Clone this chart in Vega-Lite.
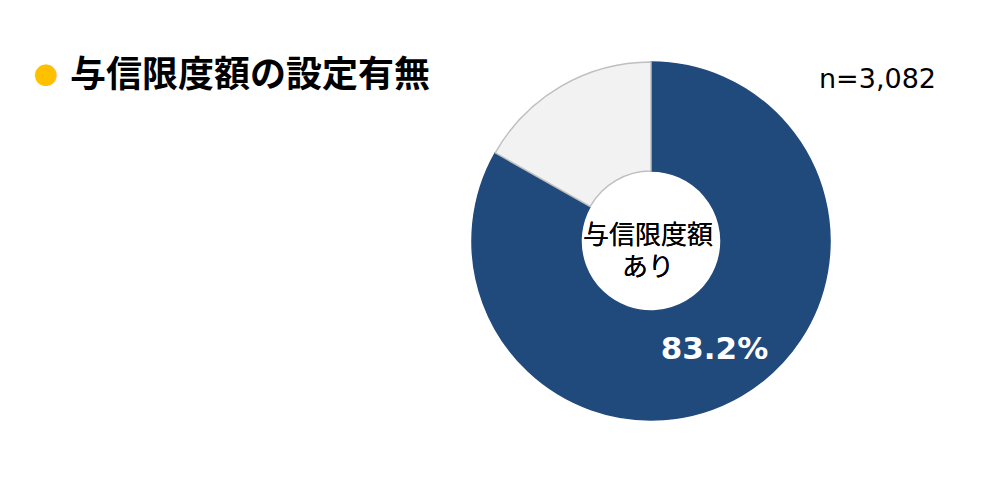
{
  "$schema": "https://vega.github.io/schema/vega-lite/v6.json",
  "background": "white",
  "padding": {"left": 34, "top": 58, "right": 0, "bottom": 0},
  "title": {
    "text": "●",
    "color": "#FFC000",
    "font": "Noto Sans CJK JP",
    "fontSize": 24,
    "fontWeight": "normal",
    "subtitle": "\u200b\u3000与信限度額の設定有無",
    "subtitleColor": "black",
    "subtitleFont": "Noto Sans CJK JP",
    "subtitleFontSize": 36,
    "subtitleFontWeight": "bold",
    "subtitlePadding": -30,
    "anchor": "start",
    "frame": "group",
    "dx": -438,
    "offset": -42
  },
  "data": {
    "values": [
      {"answer": "与信限度額あり", "share": 83.2, "label": "83.2%"},
      {"answer": "与信限度額なし", "share": 16.8, "label": ""}
    ]
  },
  "hconcat": [
    {
      "width": 358,
      "height": 358,
      "title": {
        "text": "n=3,082",
        "anchor": "end",
        "frame": "group",
        "dx": 106,
        "offset": -35,
        "font": "DejaVu Sans",
        "fontSize": 27,
        "fontWeight": "normal",
        "color": "black"
      },
      "layer": [
        {
          "mark": {"type": "arc", "innerRadius": 70, "outerRadius": 179, "strokeWidth": 1.5},
          "encoding": {
            "theta": {"field": "share", "type": "quantitative", "stack": true},
            "order": {"field": "share", "type": "quantitative", "sort": "descending"},
            "color": {
              "field": "answer",
              "type": "nominal",
              "scale": {"domain": ["与信限度額あり", "与信限度額なし"], "range": ["#214A7C", "#F2F2F2"]},
              "legend": null
            },
            "stroke": {
              "field": "answer",
              "type": "nominal",
              "scale": {"domain": ["与信限度額あり", "与信限度額なし"], "range": ["#214A7C", "#BFBFBF"]},
              "legend": null
            }
          }
        },
        {
          "mark": {
            "type": "text",
            "text": ["与信限度額", "あり"],
            "font": "Noto Sans CJK JP",
            "fontSize": 26,
            "lineHeight": 32,
            "align": "center",
            "baseline": "middle",
            "dx": -3,
            "dy": -5,
            "color": "black"
          },
          "encoding": {}
        },
        {
          "mark": {
            "type": "text",
            "radius": 126,
            "font": "DejaVu Sans",
            "fontSize": 31,
            "fontWeight": "bold",
            "align": "center",
            "baseline": "middle",
            "color": "white"
          },
          "encoding": {
            "theta": {"field": "share", "type": "quantitative", "stack": true},
            "order": {"field": "share", "type": "quantitative", "sort": "descending"},
            "text": {"field": "label", "type": "nominal"}
          }
        }
      ]
    }
  ],
  "config": {
    "view": {"stroke": null}
  }
}
